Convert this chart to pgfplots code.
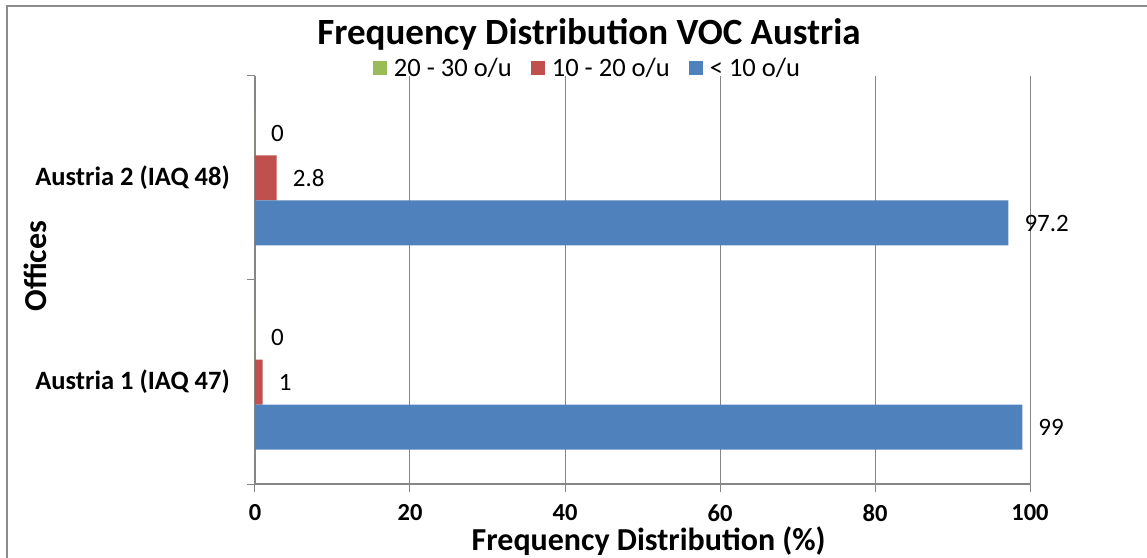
\documentclass[border=0pt]{standalone}
\usepackage{pgfplots}
\pgfplotsset{compat=1.18}
\usepackage{fontspec}
\setmainfont{Carlito}
\definecolor{cGreen}{HTML}{9BBB59}
\definecolor{cRed}{HTML}{C0504D}
\definecolor{cBlue}{HTML}{4F81BD}
\definecolor{cAxis}{HTML}{868686}
\definecolor{cFrame}{HTML}{8C8C8C}
\newcommand\fs[1]{\fontsize{#1}{#1}\selectfont}

\begin{document}
\begin{tikzpicture}
  % plot area: 0..100 over 775bp, two offices over 408bp
  \begin{axis}[
      xbar,
      scale only axis,
      width=775bp, height=408bp,
      xmin=0, xmax=100,
      ymin=-0.5, ymax=1.5,
      axis lines*=left,
      axis line style={cAxis, line width=1.5bp},
      xtick={0,20,...,100},
      xmajorgrids,
      grid style={cAxis, line width=1bp},
      tick align=outside,
      major tick length=8bp,
      xtick style={cAxis, line width=1bp},
      xticklabel style={font=\fs{24.5bp}\bfseries, inner sep=0pt, yshift=-12.5bp},
      ytick={0,1},
      yticklabels={Austria 1 (IAQ 47), Austria 2 (IAQ 48)},
      ytick style={draw=none},
      yticklabel style={font=\fs{26.5bp}\bfseries, inner sep=0pt, xshift=-17bp},
      extra y ticks={-0.5,0.5,1.5},
      extra y tick labels={},
      extra y tick style={ytick style={draw=cAxis, line width=1bp}, ymajorgrids=false},
      /pgf/number format/assume math mode=true,
      bar width=45bp,
      nodes near coords,
      nodes near coords style={font=\fs{25bp}, anchor=west, inner sep=0pt, xshift=16bp, text=black},
      xlabel={Frequency Distribution (\%)},
      xlabel style={font=\fs{32bp}\bfseries, at={(axis description cs:0.508,0)}, anchor=base, yshift=-66.5bp},
      ylabel={Offices},
      ylabel style={font=\fs{32bp}\bfseries, at={(axis description cs:-0.2839,0.534)}, anchor=center},
      legend columns=-1,
      legend style={at={(axis description cs:0.4277,1.0196)}, anchor=center,
        draw=none, fill=none, font=\fs{26.5bp},
        nodes={inner sep=0pt},
        /tikz/every odd column/.append style={column sep=7bp},
        /tikz/every even column/.append style={column sep=19bp}},
      legend image code/.code={\fill[#1] (0bp,-7bp) rectangle (14bp,7bp);},
    ]
    \addplot[fill=cGreen, draw=none, bar shift=45bp] coordinates {(0,0) (0,1)};
    \addplot[fill=cRed, draw=none, bar shift=0bp] coordinates {(1,0) (2.8,1)};
    \addplot[fill=cBlue, draw=none, bar shift=-45bp] coordinates {(99,0) (97.2,1)};
    \legend{20 - 30 o/u, 10 - 20 o/u, < 10 o/u}
  \end{axis}
  \node[font=\fs{37bp}\bfseries, anchor=base] at (334bp,439bp) {Frequency Distribution VOC Austria};
  \draw[cFrame, line width=2bp] (-248bp,-90bp) -- (-248bp,478bp) -- (900bp,478bp);
  \pgfresetboundingbox
  \path[use as bounding box] (-255bp,-74bp) rectangle (892bp,484bp);
\end{tikzpicture}
\end{document}
